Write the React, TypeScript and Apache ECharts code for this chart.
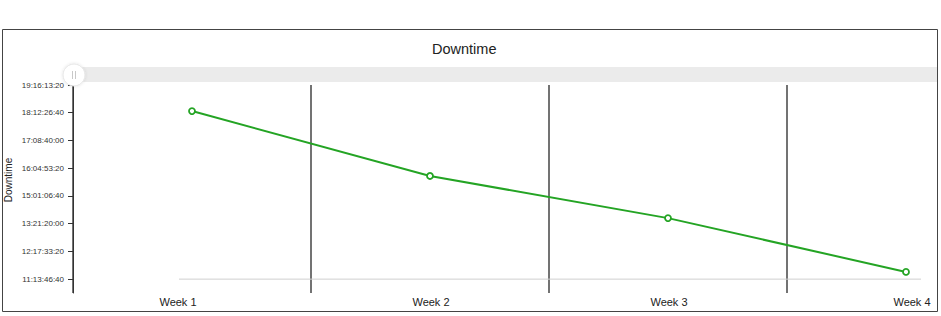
import React, { useEffect, useRef } from "react";
import * as echarts from "echarts";

const categories = ["Week 1", "Week 2", "Week 3", "Week 4"];
const downtimeSeconds = [1606000, 1372000, 1220000, 1026000];
const tickValues = [1000000, 1100000, 1200000, 1300000, 1400000, 1500000, 1600000, 1700000];
const yMin = 950000;
const yMax = 1700000;
const baselineValue = 1000000;

function fmt(v: number): string {
  const d = Math.floor(v / 86400);
  const h = Math.floor((v % 86400) / 3600);
  const m = Math.floor((v % 3600) / 60);
  const s = Math.round(v % 60);
  const p = (n: number) => String(n).padStart(2, "0");
  return `${d}:${p(h)}:${p(m)}:${p(s)}`;
}

const FONT = "'Liberation Sans', Arial, sans-serif";
const labelBase = { color: "#222", fontSize: 11, fontFamily: FONT };

export default function App() {
  const ref = useRef<HTMLDivElement>(null);
  useEffect(() => {
    if (!ref.current) return;
    const chart = echarts.init(ref.current, null, { renderer: "svg" });
    const option: any = {
      animation: false,
      backgroundColor: "#fff",
      textStyle: { fontFamily: FONT },
      title: {
        text: "Downtime",
        left: 427,
        top: 36,
        textStyle: { fontSize: 14.5, fontWeight: "normal", color: "#222", fontFamily: FONT },
      },
      grid: {
        left: 73,
        top: 85,
        right: -84,
        bottom: 23,
        containLabel: false,
        outerBoundsMode: "none",
      },
      xAxis: {
        type: "category",
        data: categories,
        boundaryGap: true,
        axisLine: { show: false },
        axisTick: { show: false },
        axisLabel: {
          ...labelBase,
          margin: 3,
          formatter: (v: string, i: number) => {
            if (i === 0) return `{first|${v}}`;
            if (i === categories.length - 1) return `{last|${v}}`;
            return `{mid|${v}}`;
          },
          rich: {
            first: { ...labelBase, padding: [0, 28, 0, 0] },
            mid: { ...labelBase, padding: [0, 0, 0, 2] },
            last: { ...labelBase, padding: [0, 0, 0, 12] },
          },
        },
        splitLine: { show: true, lineStyle: { color: "#444", width: 1.5 } },
      },
      yAxis: {
        type: "value",
        min: yMin,
        max: yMax,
        name: "Downtime",
        nameLocation: "middle",
        nameGap: 60,
        nameMoveOverlap: false,
        nameTextStyle: { color: "#222", fontSize: 10, fontFamily: FONT, padding: [0, 0, 0, 18] },
        axisLine: { show: true, lineStyle: { color: "#333", width: 1 } },
        axisTick: { show: true, length: 5, customValues: tickValues, lineStyle: { color: "#333" } },
        axisLabel: {
          customValues: tickValues,
          formatter: (v: number) => fmt(v),
          color: "#333",
          fontSize: 8,
          margin: 9,
          fontFamily: FONT,
        },
        splitLine: { show: true, lineStyle: { color: "#fff", width: 1 } },
      },
      series: [
        {
          type: "line",
          data: downtimeSeconds,
          symbol: "circle",
          symbolSize: 6,
          showSymbol: true,
          itemStyle: { color: "#fff", borderColor: "#24a424", borderWidth: 1.8 },
          lineStyle: { color: "#24a424", width: 2 },
          z: 5,
        },
      ],
    };
    chart.setOption(option);

    const p0 = chart.convertToPixel({ xAxisIndex: 0, yAxisIndex: 0 }, [categories[0], baselineValue]) as number[];
    const p1 = chart.convertToPixel({ xAxisIndex: 0, yAxisIndex: 0 }, [categories[categories.length - 1], baselineValue]) as number[];

    chart.setOption({
      graphic: [
        {
          type: "line",
          shape: { x1: p0[0] - 13, y1: p0[1], x2: p1[0] + 15, y2: p1[1] },
          style: { stroke: "#cfcfcf", lineWidth: 1 },
          z: 1,
        },
        {
          type: "rect",
          shape: { x: 66, y: 67, width: 871, height: 15 },
          style: { fill: "#ebebeb" },
          z: 10,
        },
        {
          type: "circle",
          shape: { cx: 74, cy: 75, r: 11 },
          style: {
            fill: "#fff",
            stroke: "#e6e6e6",
            lineWidth: 1,
            shadowBlur: 3,
            shadowColor: "rgba(0,0,0,0.12)",
          },
          z: 11,
        },
        {
          type: "line",
          shape: { x1: 72.5, y1: 71, x2: 72.5, y2: 79 },
          style: { stroke: "#c8c8c8", lineWidth: 1 },
          z: 12,
        },
        {
          type: "line",
          shape: { x1: 75.5, y1: 71, x2: 75.5, y2: 79 },
          style: { stroke: "#c8c8c8", lineWidth: 1 },
          z: 12,
        },
        {
          type: "rect",
          shape: { x: 2.5, y: 29.5, width: 935, height: 282 },
          style: { fill: "none", stroke: "#444", lineWidth: 1 },
          z: 20,
        },
        {
          type: "rect",
          shape: { x: 938, y: 0, width: 10, height: 316 },
          style: { fill: "#fff" },
          z: 19,
        },
      ],
    });

    return () => chart.dispose();
  }, []);
  return (
    <div
      ref={ref}
      style={{ position: "fixed", left: 0, top: 0, width: 941, height: 316 }}
    />
  );
}
